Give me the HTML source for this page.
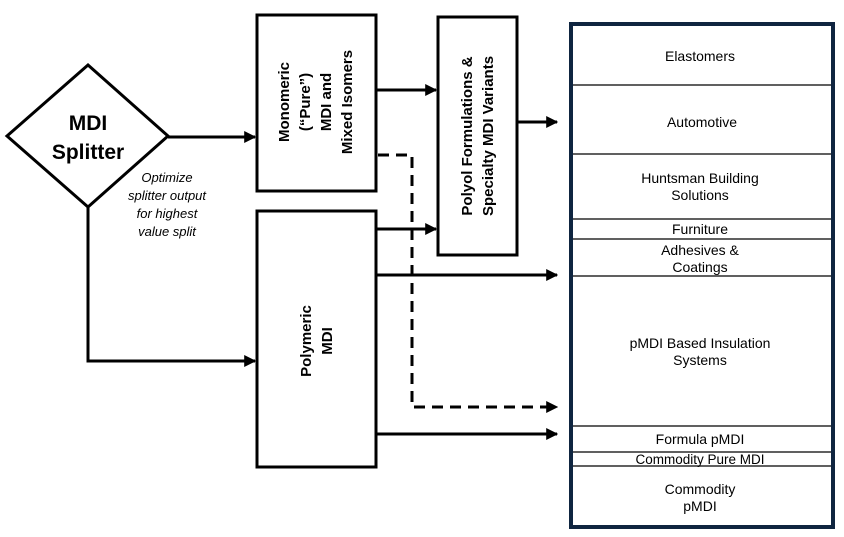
<!DOCTYPE html>
<html><head><meta charset="utf-8"><style>
html,body{margin:0;padding:0;background:#fff;}
svg{display:block;font-family:"Liberation Sans",Arial,sans-serif;}
</style></head><body>
<svg width="844" height="537" viewBox="0 0 844 537" xmlns="http://www.w3.org/2000/svg">
<defs>
<marker id="a" viewBox="0 0 10 10" refX="9" refY="5" markerWidth="4" markerHeight="4" orient="auto" markerUnits="strokeWidth"><path d="M0,0 L10,5 L0,10 z" fill="#000"/></marker>
</defs>
<rect width="844" height="537" fill="#fff"/>
<polygon points="7,136 88,65 168,136 88,207" fill="#fff" stroke="#000" stroke-width="3"/>
<text x="88" y="130" text-anchor="middle" font-size="21" font-weight="bold" font-family="Liberation Sans, Arial, sans-serif">MDI</text>
<text x="88" y="159" text-anchor="middle" font-size="21" font-weight="bold" font-family="Liberation Sans, Arial, sans-serif">Splitter</text>
<g font-size="13" font-style="italic" text-anchor="middle" font-family="Liberation Sans, Arial, sans-serif">
<text x="167" y="182">Optimize</text>
<text x="167" y="200">splitter output</text>
<text x="167" y="218">for highest</text>
<text x="167" y="236">value split</text>
</g>
<rect x="257" y="15" width="119" height="176" fill="#fff" stroke="#000" stroke-width="3"/>
<rect x="438" y="17" width="79" height="238" fill="#fff" stroke="#000" stroke-width="3"/>
<rect x="257" y="211" width="119" height="256" fill="#fff" stroke="#000" stroke-width="3"/>
<g font-size="15" font-weight="bold" text-anchor="middle" font-family="Liberation Sans, Arial, sans-serif">
<text transform="translate(289,102) rotate(-90)">Monomeric</text>
<text transform="translate(310,102) rotate(-90)">(“Pure”)</text>
<text transform="translate(331,102) rotate(-90)">MDI and</text>
<text transform="translate(352,102) rotate(-90)">Mixed Isomers</text>
<text transform="translate(472,136) rotate(-90)">Polyol Formulations &amp;</text>
<text transform="translate(493,136) rotate(-90)">Specialty MDI Variants</text>
<text transform="translate(311,341) rotate(-90)">Polymeric</text>
<text transform="translate(332,341) rotate(-90)">MDI</text>
</g>
<g stroke="#000" stroke-width="3" fill="none">
<line x1="168" y1="137" x2="255" y2="137" marker-end="url(#a)"/>
<polyline points="88,207 88,361 255,361" marker-end="url(#a)"/>
<line x1="376" y1="90" x2="436" y2="90" marker-end="url(#a)"/>
<line x1="376" y1="229" x2="436" y2="229" marker-end="url(#a)"/>
<line x1="517" y1="122" x2="557" y2="122" marker-end="url(#a)"/>
<line x1="376" y1="275" x2="557" y2="275" marker-end="url(#a)"/>
<line x1="376" y1="434" x2="557" y2="434" marker-end="url(#a)"/>
<polyline points="378,155 412,155 412,407 557,407" stroke-dasharray="11,7" marker-end="url(#a)"/>
</g>
<rect x="571" y="24" width="262" height="503" fill="#fff" stroke="#0f2540" stroke-width="4"/>
<g stroke="#000" stroke-width="1.2">
<line x1="573" y1="85" x2="831" y2="85"/>
<line x1="573" y1="154" x2="831" y2="154"/>
<line x1="573" y1="219" x2="831" y2="219"/>
<line x1="573" y1="239" x2="831" y2="239"/>
<line x1="573" y1="276" x2="831" y2="276"/>
<line x1="573" y1="426" x2="831" y2="426"/>
<line x1="573" y1="452" x2="831" y2="452"/>
<line x1="573" y1="466" x2="831" y2="466"/>
</g>
<g font-size="14" text-anchor="middle" fill="#000" font-family="Liberation Sans, Arial, sans-serif">
<text x="700" y="61">Elastomers</text>
<text x="702" y="127">Automotive</text>
<text x="700" y="183">Huntsman Building</text>
<text x="700" y="200">Solutions</text>
<text x="700" y="234">Furniture</text>
<text x="700" y="255">Adhesives &amp;</text>
<text x="700" y="272">Coatings</text>
<text x="700" y="348">pMDI Based Insulation</text>
<text x="700" y="365">Systems</text>
<text x="700" y="444">Formula pMDI</text>
<text x="700" y="464" font-size="13.5">Commodity Pure MDI</text>
<text x="700" y="494">Commodity</text>
<text x="700" y="511">pMDI</text>
</g>
</svg>
</body></html>
